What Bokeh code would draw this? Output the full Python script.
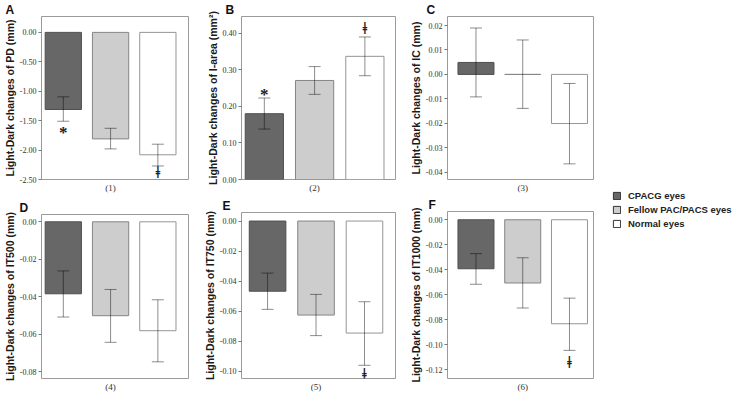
from bokeh.plotting import figure
from bokeh.layouts import row, column
from bokeh.models import (ColumnDataSource, Whisker, TeeHead, FixedTicker,
                          PrintfTickFormatter, LabelSet, Legend,
                          LegendItem, Range1d)
from bokeh.embed import file_html
from bokeh.resources import INLINE

# ---------------- data ----------------
groups = ["CPACG eyes", "Fellow PAC/PACS eyes", "Normal eyes"]
group_pos = [1, 2, 3]

pd_mean = [-1.31, -1.81, -2.08]
pd_low = [-1.51, -1.98, -2.27]
pd_high = [-1.095, -1.63, -1.90]

iarea_mean = [0.180, 0.271, 0.337]
iarea_low = [0.138, 0.233, 0.284]
iarea_high = [0.223, 0.309, 0.390]

ic_mean = [0.0049, 0.0, -0.0201]
ic_low = [-0.0092, -0.0139, -0.0366]
ic_high = [0.0190, 0.0141, -0.0037]

it500_mean = [-0.0384, -0.0501, -0.0581]
it500_low = [-0.0508, -0.0643, -0.0747]
it500_high = [-0.0262, -0.0361, -0.0416]

it750_mean = [-0.0468, -0.0627, -0.0747]
it750_low = [-0.0589, -0.0764, -0.0962]
it750_high = [-0.0347, -0.0489, -0.0538]

it1000_mean = [-0.0392, -0.0506, -0.0832]
it1000_low = [-0.0516, -0.0706, -0.1045]
it1000_high = [-0.0271, -0.0304, -0.0627]

# significance marks
pd_mark_text = ["*", "ǂ"]
pd_mark_grp = [1, 3]
pd_mark_y = [-1.62, -2.38]

iarea_mark_text = ["*", "ǂ"]
iarea_mark_grp = [1, 3]
iarea_mark_y = [0.246, 0.413]

it750_mark_text = ["ǂ"]
it750_mark_grp = [3]
it750_mark_y = [-0.102]

it1000_mark_text = ["ǂ"]
it1000_mark_grp = [3]
it1000_mark_y = [-0.1144]

# axis ticks / ranges
pd_ticks = [-2.5, -2.0, -1.5, -1.0, -0.5, 0.0]
pd_range = [-2.5, 0.27]
iarea_ticks = [0.0, 0.1, 0.2, 0.3, 0.4]
iarea_range = [0.0, 0.446]
ic_ticks = [-0.04, -0.03, -0.02, -0.01, 0.0, 0.01, 0.02]
ic_range = [-0.043, 0.0237]
it500_ticks = [-0.08, -0.06, -0.04, -0.02, 0.0]
it500_range = [-0.0836, 0.0039]
it750_ticks = [-0.10, -0.08, -0.06, -0.04, -0.02, 0.0]
it750_range = [-0.105, 0.0057]
it1000_ticks = [-0.12, -0.10, -0.08, -0.06, -0.04, -0.02, 0.0]
it1000_range = [-0.127, 0.0066]

# ---------------- styles ----------------
bar_fill = ["#676767", "#cdcdcd", "#ffffff"]
bar_line = ["#4f4f4f", "#858585", "#959595"]
err_color = "#000000"
err_alpha = 0.45
frame_color = "#9a9a9a"
SANS = "Liberation Sans"
SERIF = "Liberation Serif"


def make_panel(letter, ylabel, cat, mean, low, high, ticks, yrange,
               mark_text, mark_grp, mark_y, geom):
    W, H, bl, br, bt, bb, loff, xr, bw = geom
    p = figure(width=W, height=H,
               min_border_left=bl, min_border_right=br,
               min_border_top=bt, min_border_bottom=bb,
               x_range=Range1d(xr[0], xr[1]),
               y_range=Range1d(yrange[0], yrange[1]),
               toolbar_location=None, output_backend="svg")
    p.grid.visible = False
    p.outline_line_color = frame_color
    p.outline_line_width = 1

    p.title.text = letter
    p.title.align = "left"
    p.title.offset = loff
    p.title.standoff = 0
    p.title.text_font = SANS
    p.title.text_font_size = "12px"
    p.title.text_font_style = "bold"
    p.title.text_line_height = 0.8
    p.title.text_color = "#111111"

    src = ColumnDataSource(dict(x=group_pos, top=mean, low=low, high=high,
                                fill=bar_fill, line=bar_line))
    p.vbar(x="x", top="top", bottom=0, width=bw, fill_color="fill",
           line_color="line", line_width=1, source=src)
    w = Whisker(source=src, base="x", upper="high", lower="low",
                line_color=err_color, line_alpha=err_alpha, line_width=1,
                level="overlay",
                upper_head=TeeHead(size=12, line_color=err_color,
                                   line_alpha=err_alpha, line_width=1),
                lower_head=TeeHead(size=12, line_color=err_color,
                                   line_alpha=err_alpha, line_width=1))
    p.add_layout(w)

    if mark_text:
        star = [i for i, t in enumerate(mark_text) if t == "*"]
        dag = [i for i, t in enumerate(mark_text) if t != "*"]
        for idx, yoff in ((star, -5), (dag, 0)):
            if not idx:
                continue
            msrc = ColumnDataSource(dict(x=[mark_grp[i] for i in idx],
                                         y=[mark_y[i] for i in idx],
                                         t=[mark_text[i] for i in idx]))
            ls = LabelSet(x="x", y="y", text="t", source=msrc,
                          text_align="center", text_baseline="middle",
                          y_offset=yoff,
                          text_font="DejaVu Sans", text_font_size="17px",
                          text_font_style="bold", text_color="#222222",
                          level="overlay")
            p.add_layout(ls)

    # y axis
    ya = p.yaxis[0]
    ya.ticker = FixedTicker(ticks=ticks)
    ya.formatter = PrintfTickFormatter(format="%.2f")
    ya.minor_tick_line_color = None
    ya.minor_tick_out = 0
    ya.minor_tick_in = 0
    ya.major_tick_out = 3
    ya.major_tick_in = 0
    ya.major_tick_line_color = "#777777"
    ya.axis_line_color = None
    ya.major_label_text_font = SERIF
    ya.major_label_text_font_size = "8px"
    ya.major_label_text_color = "#333333"
    ya.major_label_standoff = 2
    ya.axis_label = ylabel
    ya.axis_label_text_font = SANS
    ya.axis_label_text_font_size = "10.5px"
    ya.axis_label_text_font_style = "bold"
    ya.axis_label_text_color = "#1a1a1a"
    ya.axis_label_standoff = 1

    # x axis
    xa = p.xaxis[0]
    xa.ticker = FixedTicker(ticks=[2])
    xa.major_label_overrides = {2: cat}
    xa.major_tick_line_color = None
    xa.minor_tick_line_color = None
    xa.major_tick_out = 0
    xa.major_tick_in = 0
    xa.minor_tick_out = 0
    xa.minor_tick_in = 0
    xa.axis_line_color = None
    xa.major_label_text_font = SERIF
    xa.major_label_text_font_size = "9px"
    xa.major_label_text_color = "#333333"
    xa.major_label_standoff = 3
    return p


XR_AD = (0.539, 3.648)
XR_B = (0.546, 3.609)
XR_E = (0.462, 3.640)
XR_CF = (0.391, 3.514)

pa = make_panel("A", "Light-Dark changes of PD (mm)", "(1)",
                pd_mean, pd_low, pd_high, pd_ticks, pd_range,
                pd_mark_text, pd_mark_grp, pd_mark_y,
                (200, 195, 38, 12, 9, 14, -36, XR_AD, 0.767))
pb = make_panel("B", "Light-Dark changes of I-area (mm²)", "(2)",
                iarea_mean, iarea_low, iarea_high, iarea_ticks, iarea_range,
                iarea_mark_text, iarea_mark_grp, iarea_mark_y,
                (205, 195, 38, 10, 9, 14, -16, XR_B, 0.76))
pc = make_panel("C", "Light-Dark changes of IC (mm)", "(3)",
                ic_mean, ic_low, ic_high, ic_ticks, ic_range,
                [], [], [],
                (197, 195, 42, 9, 11, 16, -21, XR_CF, 0.77))
pdd = make_panel("D", "Light-Dark changes of IT500 (mm)", "(4)",
                 it500_mean, it500_low, it500_high, it500_ticks, it500_range,
                 [], [], [],
                 (200, 199, 38, 12, 19, 14, -22, XR_AD, 0.767))
pe = make_panel("E", "Light-Dark changes of IT750 (mm)", "(5)",
                it750_mean, it750_low, it750_high, it750_ticks, it750_range,
                it750_mark_text, it750_mark_grp, it750_mark_y,
                (205, 199, 38, 10, 17, 14, -19, XR_E, 0.755))
pf = make_panel("F", "Light-Dark changes of IT1000 (mm)", "(6)",
                it1000_mean, it1000_low, it1000_high, it1000_ticks, it1000_range,
                it1000_mark_text, it1000_mark_grp, it1000_mark_y,
                (197, 199, 42, 9, 16, 14, -19, XR_CF, 0.77))

# legend figure (legend proxies sit outside the visible range)
lg = figure(width=132, height=394, toolbar_location=None, output_backend="svg",
            x_range=(10, 11), y_range=(10, 11), min_border=0)
lg.axis.visible = False
lg.grid.visible = False
lg.outline_line_color = None
items = []
for i, g in enumerate(groups):
    r = lg.vbar(x=[group_pos[i]], top=[group_pos[i]], width=0.5,
                fill_color=bar_fill[i], line_color="#333333", line_width=1)
    items.append(LegendItem(label=g, renderers=[r]))
leg = Legend(items=items, location=(10, 165), border_line_color=None,
             background_fill_alpha=0, glyph_width=9, glyph_height=9,
             label_height=12, label_standoff=7, spacing=2, padding=0,
             margin=0, label_text_font=SANS, label_text_font_size="9.5px",
             label_text_font_style="bold", label_text_color="#222222")
lg.add_layout(leg)

layout = row(column(pa, pdd), column(pb, pe), column(pc, pf), lg)
open("out.html", "w").write(file_html(layout, INLINE))
